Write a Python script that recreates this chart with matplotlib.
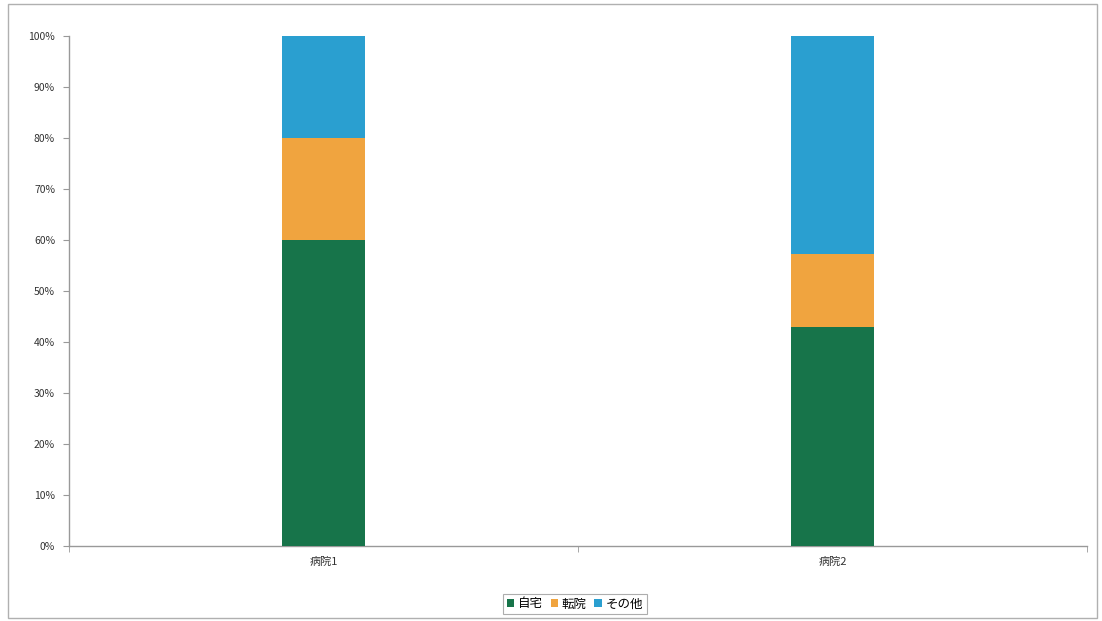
import matplotlib
matplotlib.use("Agg")
import matplotlib.pyplot as plt
from matplotlib.patches import Rectangle
from matplotlib.ticker import FuncFormatter

plt.rcParams['font.family'] = ['Noto Sans CJK JP', 'DejaVu Sans']

categories = ['病院1', '病院2']
series_names = ['自宅', '転院', 'その他']
home = [60.0, 42.9]
transfer = [20.0, 14.3]
other = [20.0, 42.8]
colors = ['#17744a', '#f0a43f', '#2a9fd0']

fig = plt.figure(figsize=(11.02, 6.21), dpi=100)
fig.patches.append(Rectangle((8/1102, 3/621), 1089/1102, 614/621, transform=fig.transFigure,
                             fill=False, edgecolor='#b0b0b0', linewidth=1.0))
ax = fig.add_axes([69/1102, 1-546/621, (1087-69)/1102, (546-36)/621])

x = list(range(len(categories)))
bottom = [0.0]*len(categories)
for name, vals, c in zip(series_names, [home, transfer, other], colors):
    ax.bar(x, vals, width=0.165, bottom=bottom, color=c, label=name, zorder=3)
    bottom = [b+v for b, v in zip(bottom, vals)]

ax.set_xlim(-0.5, len(categories)-0.5)
ax.set_ylim(0, 100)
ax.set_yticks(range(0, 101, 10))
ax.yaxis.set_major_formatter(FuncFormatter(lambda v, p: f"{int(v)}%"))
ax.set_xticks(x)
ax.set_xticklabels(categories)
ax.set_xticks([-0.5, 0.5, 1.5], minor=True)
ax.tick_params(axis='x', which='major', length=0, labelsize=8, pad=8, colors='#333333')
ax.tick_params(axis='x', which='minor', length=4, color='#999999')
ax.tick_params(axis='y', length=4, color='#999999', labelsize=7.5, labelcolor='#333333', pad=6)
for s in ['top', 'right']:
    ax.spines[s].set_visible(False)
for s in ['left', 'bottom']:
    ax.spines[s].set_color('#999999')
    ax.spines[s].set_linewidth(1.0)

leg = fig.legend(loc='center', bbox_to_anchor=(575/1102, 1-604/621), ncol=3, frameon=True,
                 fontsize=9, handlelength=0.6, handleheight=0.6, handletextpad=0.3,
                 columnspacing=0.6, borderpad=0.3, fancybox=False)
leg.get_frame().set_edgecolor('#999999')
leg.get_frame().set_linewidth(0.8)

fig.savefig('out.png', dpi=100)
